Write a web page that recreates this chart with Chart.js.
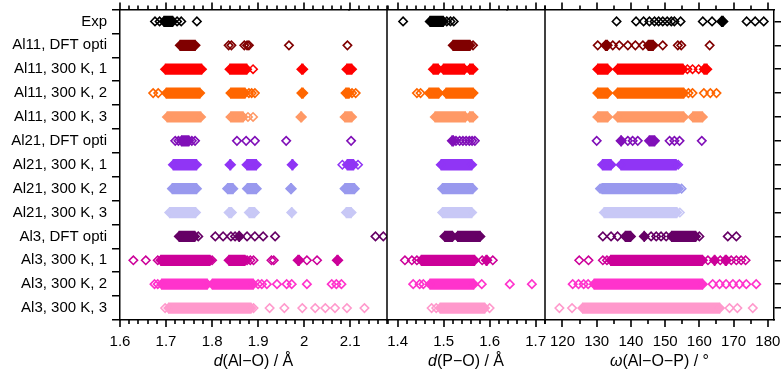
<!DOCTYPE html>
<html>
<head>
<meta charset="utf-8">
<script src="https://cdn.jsdelivr.net/npm/chart.js@4.4.0/dist/chart.umd.min.js"></script>
<style>
  html, body { margin: 0; padding: 0; background: #fff; }
  canvas { display: block; }
</style>
</head>
<body>
<canvas id="myChart" width="783" height="373"></canvas>
<script>
var categories = ['Exp', 'Al11, DFT opti', 'Al11, 300 K, 1', 'Al11, 300 K, 2', 'Al11, 300 K, 3',
    'Al21, DFT opti', 'Al21, 300 K, 1', 'Al21, 300 K, 2', 'Al21, 300 K, 3',
    'Al3, DFT opti', 'Al3, 300 K, 1', 'Al3, 300 K, 2', 'Al3, 300 K, 3'];
var colors = ['#000000', '#800000', '#ff0000', '#ff6600', '#ff9966',
    '#8010b8', '#9035f5', '#9999ee', '#c8c8f6',
    '#660066', '#cc0099', '#ff33cc', '#ff99cc'];

// d(Al-O) / Å : dense runs [from, to] and single values, one row per category
var alOBands = [
    [[1.695, 1.715]],
    [[1.73, 1.764]],
    [[1.698, 1.778], [1.838, 1.876], [1.994, 1.998], [2.092, 2.104]],
    [[1.700, 1.774], [1.84, 1.872], [1.994, 1.998], [2.090, 2.098]],
    [[1.702, 1.776], [1.84, 1.868], [1.992, 1.995], [2.088, 2.104]],
    [[1.733, 1.75]],
    [[1.715, 1.767], [1.838, 1.841], [1.875, 1.897], [1.973, 1.976], [2.093, 2.108]],
    [[1.713, 1.767], [1.833, 1.846], [1.876, 1.897], [1.970, 1.973], [2.088, 2.11]],
    [[1.707, 1.765], [1.836, 1.843], [1.88, 1.893], [1.972, 1.974], [2.091, 2.103]],
    [[1.728, 1.763], [1.858, 1.86]],
    [[1.688, 1.796], [1.836, 1.872], [1.986, 1.99], [2.071, 2.074]],
    [[1.69, 1.79], [1.80, 1.89]],
    [[1.705, 1.885]]
];
var alOPoints = [
    [1.676, 1.686, 1.724, 1.733, 1.767],
    [1.836, 1.842, 1.87, 1.876, 1.88, 1.967, 2.094],
    [1.889],
    [1.672, 1.683, 1.88, 1.886, 1.893, 2.104, 2.112],
    [1.878, 1.889],
    [1.72, 1.727, 1.756, 1.763, 1.854, 1.874, 1.893, 1.961, 2.102],
    [2.083, 2.117],
    [],
    [],
    [1.77, 1.807, 1.824, 1.841, 1.85, 1.876, 1.893, 1.911, 1.937, 2.155, 2.172],
    [1.629, 1.656, 1.682, 1.80, 1.842, 1.876, 1.883, 1.89, 1.929, 1.934, 2.006, 2.028],
    [1.675, 1.682, 1.90, 1.908, 1.919, 1.941, 1.962, 1.973, 2.006, 2.06, 2.07, 2.081],
    [1.698, 1.89, 1.925, 1.957, 1.996, 2.024, 2.046, 2.067, 2.093, 2.131]
];

// d(P-O) / Å
var pOBands = [
    [[1.47, 1.50]],
    [[1.52, 1.558]],
    [[1.477, 1.489], [1.499, 1.546], [1.556, 1.565]],
    [[1.468, 1.49], [1.505, 1.565]],
    [[1.481, 1.548], [1.556, 1.565]],
    [[1.518, 1.522]],
    [[1.494, 1.562]],
    [[1.497, 1.564]],
    [[1.497, 1.562]],
    [[1.502, 1.52], [1.53, 1.58]],
    [[1.451, 1.568], [1.592, 1.595]],
    [[1.47, 1.566]],
    [[1.492, 1.59]]
];
var pOPoints = [
    [1.412, 1.507, 1.515, 1.522],
    [1.564],
    [],
    [1.442, 1.45],
    [],
    [1.527, 1.535, 1.542, 1.549, 1.556, 1.562, 1.568],
    [],
    [],
    [],
    [],
    [1.416, 1.431, 1.442, 1.584, 1.607],
    [1.434, 1.448, 1.456, 1.583, 1.644, 1.692],
    [1.474, 1.484, 1.6]
];

// ω(Al-O-P) / °
var alOPBands = [
    [[166.4, 167]],
    [[132.5, 133.2], [145, 146.6]],
    [[130.2, 133.3], [136, 155.3], [161.3, 162.3]],
    [[130.2, 133.3], [136, 155.5]],
    [[130.2, 133.3], [136, 155.5], [158, 161]],
    [[137, 137.3], [145.3, 147]],
    [[131.6, 134.3], [137, 153.3]],
    [[131.5, 153.5]],
    [[132.1, 153.5]],
    [[138.3, 140], [143.8, 144], [151.8, 159]],
    [[134, 161], [164.3, 164.6], [167.5, 168]],
    [[129.2, 161]],
    [[125.8, 166]]
];
var alOPPoints = [
    [135.8, 141.5, 143.7, 145.4, 146.9, 148.1, 149.3, 150.6, 151.8, 152.7, 154.5, 161, 163.7, 173.8, 176.3, 178.8],
    [130.3, 134.7, 136.6, 139.1, 141.3, 143.5, 149.3, 153.7, 154.7, 163],
    [156.5, 158, 159.8],
    [156.8, 158, 161.3, 163.2, 165],
    [],
    [130, 139.1, 140.5, 142, 151.3, 152.7, 154.2, 160.7],
    [153.8],
    [131, 154, 154.8],
    [154.3],
    [131.8, 134.2, 136.1, 145.9, 147.4, 148.8, 150.3, 160, 168.3, 170.8],
    [124.9, 127.6, 131.8, 133, 162.5, 166.1, 169.3, 170.8, 172.2, 173.5],
    [123, 124.7, 126.2, 127.5, 163.9, 165.9, 167.8, 169.8, 171.7, 173.7, 176.6],
    [119.1, 122.8, 168.8, 171.1, 175.6]
];

var panels = [
    {id: 'x1', min: 1.6, max: 2.18, step: 0.1, minor: 0.02, w: 267, title: ['d', '(Al\u2212O) / \u00c5'], bands: alOBands, points: alOPoints},
    {id: 'x2', min: 1.377, max: 1.7205, step: 0.1, minor: 0.02, w: 158, title: ['d', '(P\u2212O) / \u00c5'], bands: pOBands, points: pOPoints},
    {id: 'x3', min: 114.9, max: 181.8, step: 10, minor: 5, w: 229, title: ['\u03c9', '(Al\u2212O\u2212P) / \u00b0'], bands: alOPBands, points: alOPPoints}
];

Chart.defaults.font.family = "'Liberation Sans', Arial, sans-serif";
Chart.defaults.font.size = 15;
Chart.defaults.color = '#000';

function panelSets(p) {
    var bars = [], barCol = [], ends = [], endCol = [], pts = [], ptCol = [];
    p.bands.forEach(function (row, i) {
        row.forEach(function (b) {
            bars.push({x: b, y: categories[i]});
            barCol.push(colors[i]);
            ends.push({x: b[0], y: categories[i]}, {x: b[1], y: categories[i]});
            endCol.push(colors[i], colors[i]);
        });
    });
    p.points.forEach(function (row, i) {
        row.forEach(function (v) {
            pts.push({x: v, y: categories[i]});
            ptCol.push(colors[i]);
        });
    });
    var dot = {type: 'scatter', xAxisID: p.id, yAxisID: 'y', pointStyle: 'rectRot',
        pointRadius: 4.2, pointBorderWidth: 1.6};
    return [
        Object.assign({}, dot, {data: pts, pointBorderColor: ptCol, pointBackgroundColor: 'rgba(0,0,0,0)'}),
        Object.assign({}, dot, {data: ends, pointBorderColor: endCol, pointBackgroundColor: endCol}),
        {type: 'bar', indexAxis: 'y', xAxisID: p.id, yAxisID: 'y', data: bars,
            backgroundColor: barCol, barThickness: 10.6, grouped: false, borderWidth: 0}
    ];
}

function noPad(s) {
    s.paddingTop = s.paddingBottom = s.paddingLeft = s.paddingRight = 0;
}

var axisLine = {color: '#000', width: 1.5};
var scales = {
    y: {
        type: 'category', labels: categories, offset: true, position: 'left',
        border: axisLine,
        grid: {drawOnChartArea: false, color: '#000', lineWidth: 1.5, tickLength: 8},
        ticks: {padding: 5, autoSkip: false},
        afterFit: function (s) { s.width = 120; noPad(s); }
    },
    y2: {
        type: 'category', labels: categories, offset: true, position: 'right',
        border: axisLine,
        grid: {drawOnChartArea: false, color: '#000', lineWidth: 1.5, tickLength: 7},
        ticks: {display: false},
        afterFit: function (s) { s.width = 9; noPad(s); }
    }
};
var datasets = [];
panels.forEach(function (p) {
    datasets = datasets.concat(panelSets(p));
    scales[p.id] = {
        type: 'linear', position: 'bottom', stack: 'bottom', stackWeight: p.w,
        min: p.min, max: p.max, border: axisLine,
        grid: {drawOnChartArea: false, drawTicks: false},
        ticks: {stepSize: p.step, includeBounds: false, autoSkip: false, maxRotation: 0, padding: 13,
            callback: function (v) { return String(+v.toFixed(3)); }},
        afterFit: function (s) { s.height = 53; noPad(s); }
    };
    scales[p.id + 't'] = {
        type: 'linear', position: 'top', stack: 'top', stackWeight: p.w,
        min: p.min, max: p.max, border: axisLine,
        grid: {drawOnChartArea: false, drawTicks: false},
        ticks: {display: false, stepSize: p.step, includeBounds: false},
        afterFit: function (s) { s.height = 9.5; noPad(s); }
    };
});

// major and minor ticks on both edges, panel separators, axis titles
var frame = {
    id: 'frame',
    afterDraw: function (chart) {
        var ctx = chart.ctx, area = chart.chartArea;
        ctx.save();
        ctx.strokeStyle = '#000';
        ctx.lineWidth = 1.6;
        panels.forEach(function (p) {
            var per = Math.round(p.step / p.minor);
            var s = chart.scales[p.id];
            for (var k = Math.ceil(p.min / p.minor - 1e-9); k * p.minor <= p.max + 1e-9; k++) {
                var x = Math.round(s.getPixelForValue(k * p.minor));
                var len = k % per === 0 ? 7 : 4;
                ctx.beginPath();
                ctx.moveTo(x, area.top);
                ctx.lineTo(x, area.top - len);
                ctx.moveTo(x, area.bottom);
                ctx.lineTo(x, area.bottom + len);
                ctx.stroke();
            }
        });
        ctx.lineWidth = 1.5;
        ['x1', 'x2'].forEach(function (id) {
            var x = chart.scales[id].right;
            ctx.beginPath();
            ctx.moveTo(x, area.top);
            ctx.lineTo(x, area.bottom);
            ctx.stroke();
        });
        ctx.fillStyle = '#000';
        ctx.textBaseline = 'alphabetic';
        panels.forEach(function (p) {
            var s = chart.scales[p.id];
            var cx = (s.left + s.right) / 2, y = s.bottom - 7;
            ctx.font = "italic 16px 'Liberation Sans', Arial, sans-serif";
            var w1 = ctx.measureText(p.title[0]).width;
            ctx.font = "16px 'Liberation Sans', Arial, sans-serif";
            var w2 = ctx.measureText(p.title[1]).width;
            var x0 = cx - (w1 + w2) / 2;
            ctx.font = "italic 16px 'Liberation Sans', Arial, sans-serif";
            ctx.fillText(p.title[0], x0, y);
            ctx.font = "16px 'Liberation Sans', Arial, sans-serif";
            ctx.fillText(p.title[1], x0 + w1, y);
        });
        ctx.restore();
    }
};

var ctx = document.getElementById('myChart').getContext('2d');
var myChart = new Chart(ctx, {
    type: 'scatter',
    data: {labels: categories, datasets: datasets},
    options: {
        responsive: false,
        animation: false,
        events: [],
        layout: {padding: 0},
        plugins: {legend: {display: false}, tooltip: {enabled: false}},
        scales: scales
    },
    plugins: [frame]
});
</script>
</body>
</html>
